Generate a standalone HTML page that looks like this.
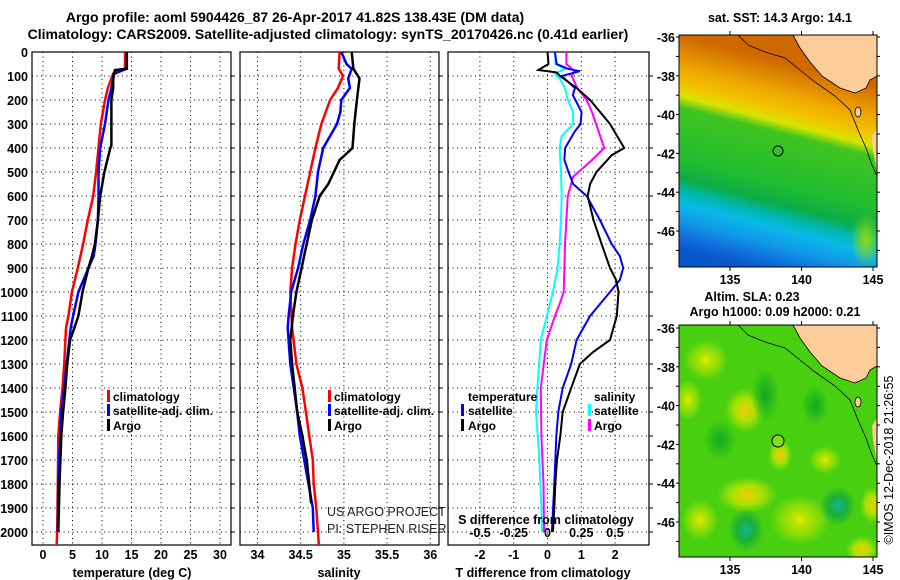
<!DOCTYPE html>
<html><head><meta charset="utf-8">
<style>
html,body{margin:0;padding:0;background:#fff;}
svg{display:block;font-family:"Liberation Sans",Arial,sans-serif;}
.t{font-weight:bold;font-size:12.5px;fill:#000;}
.ttl{font-weight:bold;font-size:14px;fill:#000;}
.lg{font-weight:bold;font-size:12px;fill:#000;}
</style></head>
<body>
<svg id="fig" width="900" height="580" viewBox="0 0 900 580">
<defs>
 <linearGradient id="sstGrad" gradientUnits="userSpaceOnUse" x1="679" y1="35" x2="619" y2="267">
  <stop offset="0" stop-color="#d06800"/>
  <stop offset="0.07" stop-color="#e08a00"/>
  <stop offset="0.13" stop-color="#f0a800"/>
  <stop offset="0.2" stop-color="#f2c400"/>
  <stop offset="0.245" stop-color="#d8e400"/>
  <stop offset="0.29" stop-color="#40c420"/>
  <stop offset="0.5" stop-color="#20bc30"/>
  <stop offset="0.58" stop-color="#0cac48"/>
  <stop offset="0.63" stop-color="#00b8b0"/>
  <stop offset="0.68" stop-color="#08b8e8"/>
  <stop offset="0.75" stop-color="#1098e8"/>
  <stop offset="0.81" stop-color="#1070dc"/>
  <stop offset="0.86" stop-color="#0858cc"/>
  <stop offset="1" stop-color="#0058c8"/>
 </linearGradient>
 <radialGradient id="yel"><stop offset="0" stop-color="#e0ec00"/><stop offset="0.6" stop-color="#b0e400" stop-opacity="0.6"/><stop offset="1" stop-color="#b0e400" stop-opacity="0"/></radialGradient>
 <radialGradient id="org"><stop offset="0" stop-color="#f0c800"/><stop offset="0.5" stop-color="#d8e800" stop-opacity="0.7"/><stop offset="1" stop-color="#d8e800" stop-opacity="0"/></radialGradient>
 <radialGradient id="dg"><stop offset="0" stop-color="#10a820"/><stop offset="1" stop-color="#10a820" stop-opacity="0"/></radialGradient>
 <radialGradient id="teal"><stop offset="0" stop-color="#10b8a0"/><stop offset="0.5" stop-color="#10a840" stop-opacity="0.8"/><stop offset="1" stop-color="#10a840" stop-opacity="0"/></radialGradient>
 <radialGradient id="gy"><stop offset="0" stop-color="#90dc10"/><stop offset="1" stop-color="#90dc10" stop-opacity="0"/></radialGradient>
 <clipPath id="m1clip"><rect x="679" y="35" width="198" height="232"/></clipPath>
 <clipPath id="m2clip"><rect x="679" y="325" width="198" height="232"/></clipPath>
</defs>

<text class="ttl" x="295" y="22" text-anchor="middle">Argo profile: aoml 5904426_87 26-Apr-2017 41.82S 138.43E (DM data)</text>
<text class="ttl" x="328" y="39" text-anchor="middle">Climatology: CARS2009. Satellite-adjusted climatology: synTS_20170426.nc (0.41d earlier)</text>

<g id="depthAxis"></g>
<g id="p1"></g>
<g id="p2"></g>
<g id="p3"></g>

<g>
 <rect x="107" y="390" width="3" height="12" fill="#f00"/><text class="lg" x="113" y="401">climatology</text>
 <rect x="107" y="404" width="3" height="12" fill="#00f"/><text class="lg" x="113" y="415">satellite-adj. clim.</text>
 <rect x="107" y="419" width="3" height="12" fill="#000"/><text class="lg" x="113" y="430">Argo</text>
</g>
<g>
 <rect x="328" y="390" width="3" height="12" fill="#f00"/><text class="lg" x="334" y="401">climatology</text>
 <rect x="328" y="404" width="3" height="12" fill="#00f"/><text class="lg" x="334" y="415">satellite-adj. clim.</text>
 <rect x="328" y="419" width="3" height="12" fill="#000"/><text class="lg" x="334" y="430">Argo</text>
</g>
<g>
 <text class="lg" x="468" y="401">temperature</text>
 <rect x="461" y="404" width="3" height="12" fill="#00f"/><text class="lg" x="468" y="415">satellite</text>
 <rect x="461" y="419" width="3" height="12" fill="#000"/><text class="lg" x="468" y="430">Argo</text>
 <text class="lg" x="594" y="401">salinity</text>
 <rect x="588" y="404" width="3" height="12" fill="#0ff"/><text class="lg" x="594" y="415">satellite</text>
 <rect x="588" y="419" width="3" height="12" fill="#f0f"/><text class="lg" x="594" y="430">Argo</text>
</g>
<text x="327" y="516" font-size="12.5" fill="#222">US ARGO PROJECT</text>
<text x="327" y="533" font-size="12.5" fill="#222">PI: STEPHEN RISER</text>

<g>
 <g clip-path="url(#m1clip)">
  <rect x="679" y="35" width="198" height="232" fill="url(#sstGrad)"/>
  <ellipse cx="866" cy="240" rx="16" ry="28" fill="url(#gy)"/>
  <path d="M793,35 L800,48 L810,62 L822,76 L840,88 L855,93 L866,88 L870,80 L877,76 L877,35 Z" fill="#fccc99"/>
  <path d="M877,128 L872,136 L873,150 L877,172 Z" fill="#fccc99"/>
  <ellipse cx="858" cy="112" rx="3" ry="5" fill="#fccc99" stroke="#000" stroke-width="0.8"/>
  <path d="M793,35 L800,48 L810,62 L822,76 L840,88 L855,93 L866,88 L870,80 L877,76" fill="none" stroke="#000" stroke-width="0.8"/>
  <path d="M738,35 L748,45 L765,52 L785,58 L800,70 L815,82 L835,96 L850,110 L858,130 L866,148 L872,165 L877,176" fill="none" stroke="#000" stroke-width="0.8"/>
  <circle cx="778" cy="151" r="5" fill="none" stroke="#000" stroke-width="1"/>
 </g>
 <rect x="679" y="35" width="198" height="232" fill="none" stroke="#000" stroke-width="1"/>
</g>
<g id="m1ax"></g>
<text class="t" x="780" y="22" text-anchor="middle">sat. SST: 14.3 Argo: 14.1</text>

<g>
 <g clip-path="url(#m2clip)">
  <rect x="679" y="325" width="198" height="232" fill="#48d010"/>
  <ellipse cx="706" cy="360" rx="22" ry="20" fill="url(#yel)"/>
  <ellipse cx="745" cy="410" rx="20" ry="22" fill="url(#org)"/>
  <ellipse cx="780" cy="455" rx="12" ry="16" fill="url(#org)"/>
  <ellipse cx="747" cy="495" rx="30" ry="18" fill="url(#org)"/>
  <ellipse cx="800" cy="520" rx="30" ry="25" fill="url(#yel)"/>
  <ellipse cx="688" cy="400" rx="14" ry="20" fill="url(#yel)"/>
  <ellipse cx="872" cy="505" rx="12" ry="18" fill="url(#org)"/>
  <ellipse cx="862" cy="550" rx="16" ry="14" fill="url(#org)"/>
  <ellipse cx="825" cy="460" rx="16" ry="14" fill="url(#yel)"/>
  <ellipse cx="700" cy="520" rx="18" ry="20" fill="url(#yel)"/>
  <ellipse cx="746" cy="530" rx="18" ry="22" fill="url(#teal)"/>
  <ellipse cx="838" cy="506" rx="18" ry="20" fill="url(#teal)"/>
  <ellipse cx="765" cy="395" rx="14" ry="28" fill="url(#dg)"/>
  <ellipse cx="815" cy="405" rx="14" ry="20" fill="url(#dg)"/>
  <ellipse cx="720" cy="440" rx="16" ry="20" fill="url(#dg)"/>
  <path d="M793,325 L800,338 L810,352 L822,366 L840,378 L855,383 L866,378 L870,370 L877,366 L877,325 Z" fill="#fccc99"/>
  <path d="M877,418 L872,426 L873,440 L877,462 Z" fill="#fccc99"/>
  <ellipse cx="858" cy="402" rx="3" ry="5" fill="#fccc99" stroke="#000" stroke-width="0.8"/>
  <path d="M793,325 L800,338 L810,352 L822,366 L840,378 L855,383 L866,378 L870,370 L877,366" fill="none" stroke="#000" stroke-width="0.8"/>
  <path d="M738,325 L748,335 L765,342 L785,348 L800,360 L815,372 L835,386 L850,400 L858,420 L866,438 L872,455 L877,466" fill="none" stroke="#000" stroke-width="0.8"/>
  <circle cx="778" cy="441" r="6" fill="#80e020" stroke="#000" stroke-width="1"/>
 </g>
 <rect x="679" y="325" width="198" height="232" fill="none" stroke="#000" stroke-width="1"/>
</g>
<g id="m2ax"></g>
<text class="t" x="752" y="301" text-anchor="middle">Altim. SLA: 0.23</text>
<text class="t" x="775" y="316" text-anchor="middle">Argo h1000: 0.09 h2000: 0.21</text>
<text x="893" y="460" font-size="12.5" text-anchor="middle" transform="rotate(-90 893 460)">©IMOS 12-Dec-2018 21:26:55</text>
</svg>

<script>
const tempDepth   = [0,70,90,150,200,300,400,500,600,700,800,900,1000,1100,1150,1300,1400,1500,1600,1800,2000,2054];
const tempClim    = [13.9,13.9,11.9,11.0,10.5,9.8,9.4,9.0,8.5,7.6,6.8,5.9,4.9,4.3,3.9,3.6,3.3,2.9,2.6,2.5,2.4,2.3];
const tempSatDepth= [0,70,90,150,200,300,400,500,600,700,800,850,900,1000,1100,1150,1300,1400,1500,1600,1800,2000];
const tempSat     = [14.2,14.2,12.1,11.6,11.1,10.5,9.7,9.4,9.4,9.3,8.9,8.6,7.7,6.0,5.1,4.7,4.0,3.6,3.1,2.9,2.6,2.5];
const argoDepth   = [0,70,75,100,150,200,390,400,500,600,700,800,850,900,1000,1100,1150,1200,1300,1400,1500,1600,1800,2000];
const tempArgo    = [14.2,14.2,12.2,11.9,11.9,11.6,11.6,11.4,10.4,9.7,9.3,8.8,8.3,7.7,6.7,6.0,5.3,4.6,4.1,3.8,3.4,3.1,2.8,2.6];

const salClimDepth= [0,70,100,150,200,300,400,500,600,700,800,900,1000,1150,1300,1400,1500,1600,1700,1800,1900,2000,2054];
const salClim     = [34.95,34.94,34.99,34.93,34.84,34.74,34.67,34.61,34.55,34.49,34.44,34.40,34.38,34.40,34.45,34.52,34.56,34.60,34.64,34.65,34.68,34.70,34.71];
const salSatDepth = [0,50,70,110,150,200,250,300,350,400,500,600,700,800,900,1000,1100,1150,1300,1400,1500,1600,1700,1800,1900,2000];
const salSat      = [34.97,35.03,35.09,35.05,35.07,34.97,34.96,34.92,34.84,34.76,34.70,34.67,34.61,34.53,34.47,34.39,34.36,34.35,34.38,34.42,34.46,34.49,34.54,34.59,34.64,34.65];
const salArgoDepth= [0,70,110,200,300,400,450,550,600,700,800,900,1000,1100,1200,1300,1400,1500,1600,1700,1800,1880];
const salArgo     = [35.09,35.11,35.18,35.15,35.12,35.10,34.95,34.82,34.72,34.63,34.57,34.51,34.45,34.41,34.38,34.40,34.43,34.46,34.52,34.57,34.60,34.62];

const dTArgoDepth = [0,50,75,85,100,150,200,300,400,430,500,550,600,700,800,900,950,1000,1100,1200,1250,1300,1400,1500,1600,1700,1800,1900,2000];
const dTArgo      = [0.0,0.03,-0.27,0.27,0.37,0.86,1.26,1.85,2.27,1.9,1.45,1.26,1.19,1.36,1.6,1.85,2.03,2.1,2.05,1.85,1.35,0.96,0.7,0.45,0.38,0.28,0.23,0.2,0.16];
const dTSatDepth  = [0,50,70,80,100,150,180,250,300,330,400,450,500,550,600,700,800,850,900,950,1000,1100,1200,1300,1400,1500,1600,1800,2000];
const dTSat       = [0.22,0.27,0.6,0.96,0.42,0.81,0.75,1.01,0.98,0.81,0.52,0.5,0.62,0.76,1.16,1.55,1.9,2.14,2.24,2.14,1.85,1.26,0.86,0.7,0.45,0.32,0.26,0.2,0.13];
const dSSatDepth  = [0,50,70,90,110,150,200,250,300,350,400,500,600,700,800,900,1000,1100,1200,1400,1500,1700,1900,2000];
const dSSat       = [0.055,0.06,0.13,0.055,0.09,0.13,0.15,0.19,0.19,0.105,0.09,0.1,0.105,0.1,0.09,0.075,0.04,-0.005,-0.05,-0.075,-0.085,-0.06,-0.045,-0.04];
const dSArgoDepth = [0,50,80,100,150,200,250,300,400,450,520,600,700,800,1000,1050,1100,1200,1400,1600,1800,2000];
const dSArgo      = [0.14,0.14,0.2,0.18,0.22,0.29,0.33,0.36,0.42,0.33,0.19,0.15,0.14,0.13,0.12,0.09,0.055,-0.005,-0.05,-0.045,-0.03,-0.025];

const depthTicks  = [0,100,200,300,400,500,600,700,800,900,1000,1100,1200,1300,1400,1500,1600,1700,1800,1900,2000];
const tempTicks   = [0,5,10,15,20,25,30];
const salTicks    = [34,34.5,35,35.5,36];
const salTickLabels = ["34","34.5","35","35.5","36"];
const dTTicks     = [-2,-1,0,1,2];
const dSTicks     = [-0.5,-0.25,0,0.25,0.5];
const dSTickLabels= ["-0.5","-0.25","0","0.25","0.5"];
const latTicks    = [-36,-38,-40,-42,-44,-46];
const lonTicks    = [135,140,145];

const TOP=52, BOT=545;
const yD = d => TOP + d*0.24;
const xT = t => 43 + t*5.9;
const xS = s => 257.5 + (s-34)*86.4;
const xDT = v => 547.5 + v*33.8;
const xDS = v => 547.5 + v*135;
const NS='http://www.w3.org/2000/svg';
function mk(tag, attrs, parent){const e=document.createElementNS(NS,tag);for(const k in attrs)e.setAttribute(k,attrs[k]);parent.appendChild(e);return e;}

const dax=document.getElementById('depthAxis');
depthTicks.forEach(d=>{
  const t=mk('text',{x:28,y:yD(d)+5,'text-anchor':'end','class':'t'},dax);
  t.textContent=d;
  
  
});

function panel(g,x0,x1,gridX,name){
  mk('rect',{x:x0,y:TOP,width:x1-x0,height:BOT-TOP,fill:'none',stroke:'#000','stroke-width':1.2},g);
  gridX.forEach(x=>{
    const l=mk('line',{x1:x,x2:x,y1:TOP,y2:BOT,stroke:'#000','stroke-width':1,'stroke-dasharray':'1 3.5'},g);
    
    
  });
  depthTicks.slice(1).forEach(d=>{
    const l=mk('line',{x1:x0,x2:x1,y1:yD(d),y2:yD(d),stroke:'#000','stroke-width':1,'stroke-dasharray':'1 3.5'},g);
    
    
    mk('line',{x1:x1,x2:x1+4,y1:yD(d),y2:yD(d),stroke:'#000'},g);
  });
}
function series(g,xs,ds,sx,color,w,name){
  const pts=xs.map((v,i)=>sx(v).toFixed(1)+','+yD(ds[i]).toFixed(1)).join(' ');
  const p=mk('polyline',{points:pts,fill:'none',stroke:color,'stroke-width':w,'stroke-linejoin':'miter'},g);
  
  
}
function xlabels(g,vals,labels,sx,y,name){
  vals.forEach((v,i)=>{
    const t=mk('text',{x:sx(v),y:y,'text-anchor':'middle','class':'t'},g);
    t.textContent=labels?labels[i]:String(v);
    
    
  });
}

const p1=document.getElementById('p1');
panel(p1,32,231,tempTicks.map(xT),'temperature');
series(p1,tempClim,tempDepth,xT,'#f00',2.5,'temperature-climatology-line');
series(p1,tempSat,tempSatDepth,xT,'#00f',2.5,'temperature-satellite-line');
series(p1,tempArgo,argoDepth,xT,'#000',2.5,'temperature-argo-line');
xlabels(p1,tempTicks,null,xT,559,'temperature-tick-label');
let tt=mk('text',{x:132,y:577,'text-anchor':'middle','class':'t'},p1);tt.textContent='temperature (deg C)';



const p2=document.getElementById('p2');
panel(p2,240,439,salTicks.map(xS),'salinity');
series(p2,salClim,salClimDepth,xS,'#f00',2.5,'salinity-climatology-line');
series(p2,salSat,salSatDepth,xS,'#00f',2.5,'salinity-satellite-line');
series(p2,salArgo,salArgoDepth,xS,'#000',2.5,'salinity-argo-line');
xlabels(p2,salTicks,salTickLabels,xS,559,'salinity-tick-label');
tt=mk('text',{x:339,y:577,'text-anchor':'middle','class':'t'},p2);tt.textContent='salinity';



const p3=document.getElementById('p3');
panel(p3,448,649,dTTicks.map(xDT),'difference');
series(p3,dSSat,dSSatDepth,xDS,'#0ff',2,'salinity-diff-satellite-line');
series(p3,dSArgo,dSArgoDepth,xDS,'#f0f',2,'salinity-diff-argo-line');
series(p3,dTSat,dTSatDepth,xDT,'#00f',2,'temperature-diff-satellite-line');
series(p3,dTArgo,dTArgoDepth,xDT,'#000',2,'temperature-diff-argo-line');
xlabels(p3,dTTicks,null,xDT,559,'t-diff-tick-label');
xlabels(p3,dSTicks,dSTickLabels,xDS,537,'s-diff-tick-label');
tt=mk('text',{x:546,y:524,'text-anchor':'middle','class':'t'},p3);tt.textContent='S difference from climatology';


tt=mk('text',{x:543,y:577,'text-anchor':'middle','class':'t'},p3);tt.textContent='T difference from climatology';



function mapAxes(g,yTop,lat0y){
  const yLat = l => lat0y + (-36-l)*19.4;
  const xLon = l => 730 + (l-135)*14.3;
  latTicks.forEach(l=>{
    const t=mk('text',{x:675,y:yLat(l)+5,'text-anchor':'end','class':'t'},g);
    t.textContent=String(l);
    
    
  });
  for(let l=-36;l>=-47;l--){ mk('line',{x1:679,x2:676,y1:yLat(l),y2:yLat(l),stroke:'#000'},g); mk('line',{x1:877,x2:880,y1:yLat(l),y2:yLat(l),stroke:'#000'},g); }
  lonTicks.forEach(l=>{
    const t=mk('text',{x:xLon(l),y:yTop+232+17,'text-anchor':'middle','class':'t'},g);
    t.textContent=String(l);
    
    
    mk('line',{x1:xLon(l),x2:xLon(l),y1:yTop,y2:yTop-4,stroke:'#000'},g);
    mk('line',{x1:xLon(l),x2:xLon(l),y1:yTop+232,y2:yTop+236,stroke:'#000'},g);
  });
}
mapAxes(document.getElementById('m1ax'),35,37);
mapAxes(document.getElementById('m2ax'),325,328);
</script>
</body></html>
